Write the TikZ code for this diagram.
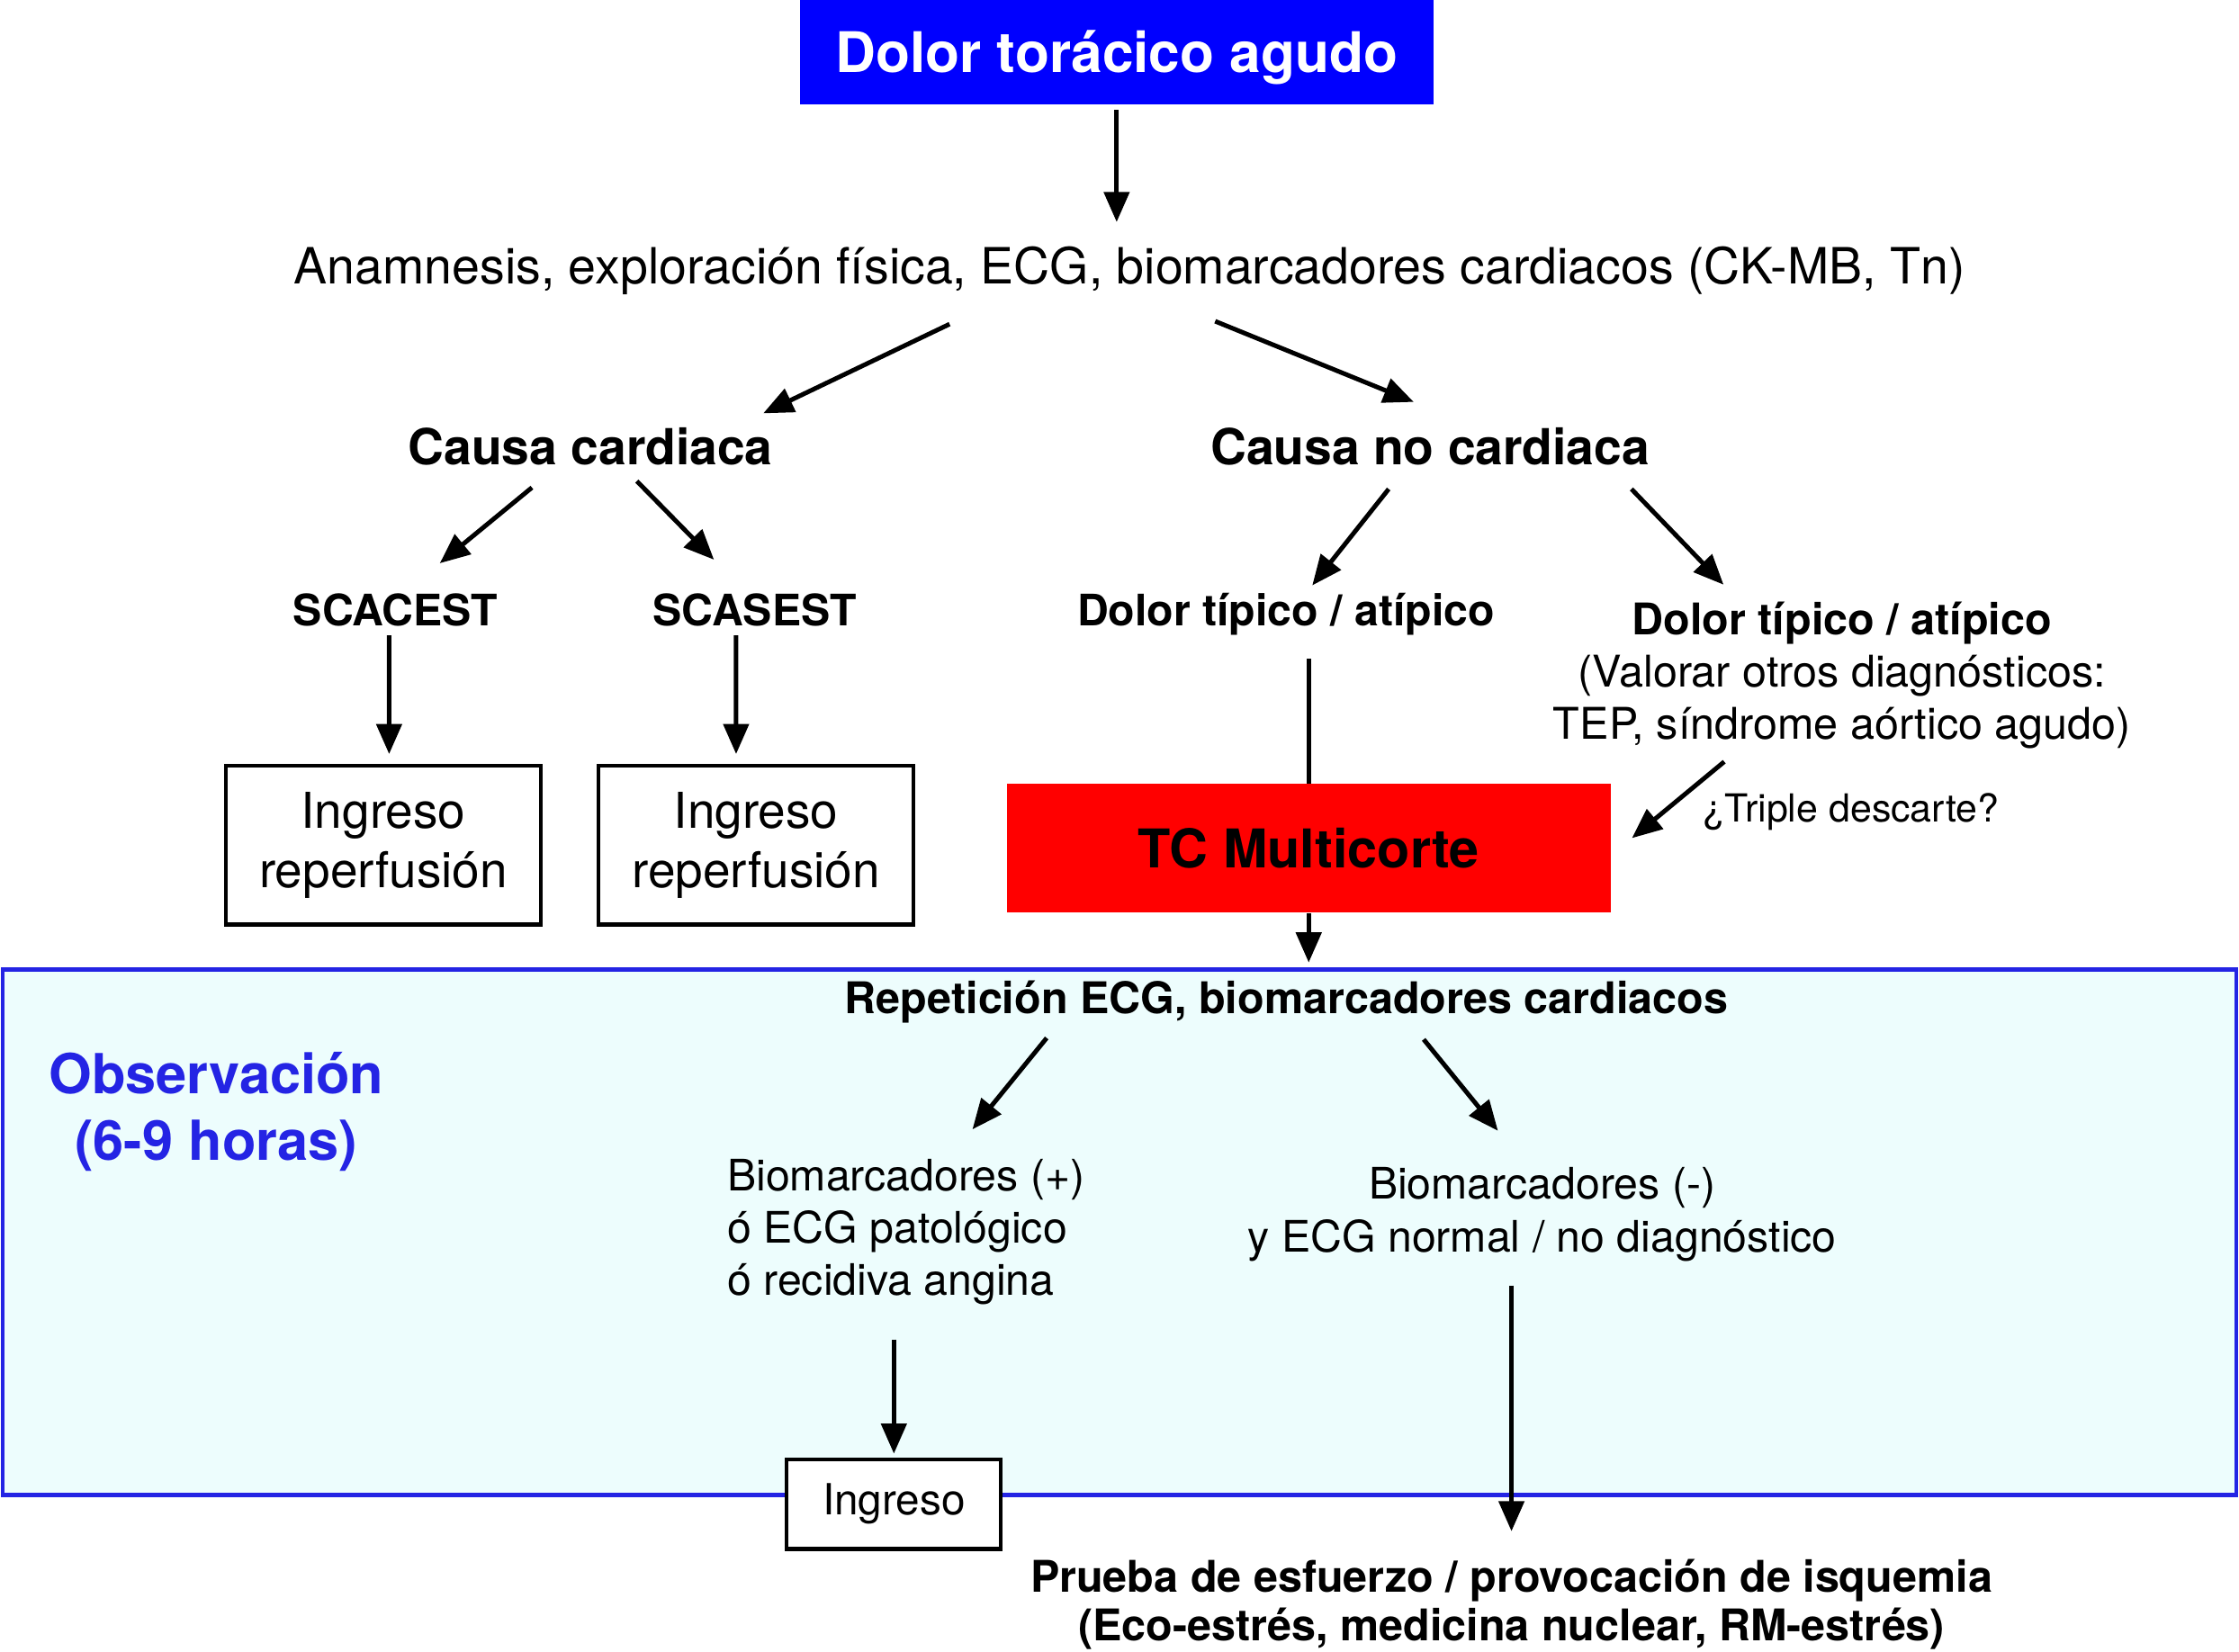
\documentclass[tikz,border=0pt]{standalone}
\usepackage{fontspec}
\setmainfont{TeX Gyre Heros}
\usepackage{xcolor}
\usepackage{tikz}
\usetikzlibrary{arrows.meta, positioning, calc}
\definecolor{headblue}{RGB}{0, 0, 255}
\definecolor{ctred}{RGB}{255, 0, 0}
\definecolor{obsblue}{RGB}{36, 36, 228}
\definecolor{obscyan}{RGB}{237, 253, 253}

\tikzset{
    arr/.style={line width=1.8pt, -{Triangle[length=12pt, width=10pt]}},
    plainline/.style={line width=1.8pt},
    txt/.style={inner sep=0pt, anchor=base, font=\fontsize{17.4pt}{20.9pt}\selectfont},
    hdr/.style={inner sep=0pt, anchor=base, font=\fontsize{19.8pt}{24pt}\selectfont\bfseries},
    sub/.style={inner sep=0pt, anchor=base, font=\fontsize{17.3pt}{21pt}\selectfont\bfseries},
    outbox/.style={draw, line width=1.55pt, fill=white, inner sep=0pt, align=center},
}

\begin{document}
\begin{tikzpicture}
    \useasboundingbox (0,0) rectangle (31.36,-23.14);

    % Observation area (background)
    \node[draw=obsblue, fill=obscyan, line width=1.55pt, minimum width=31.28cm, minimum height=7.36cm] (obsbox) at (15.68,-17.26) {};
    \node[inner sep=0pt, align=center, text=obsblue, font=\fontsize{22pt}{26.7pt}\selectfont\bfseries] (obslabel) at (3.03,-15.57) {Observación\\(6-9 horas)};

    % Top of the chart
    \node[fill=headblue, text=white, inner sep=0pt, text height=0.62cm, text depth=0.04cm, minimum width=8.88cm, minimum height=1.46cm, font=\fontsize{22.3pt}{26pt}\selectfont\bfseries] (title) at (15.64,-0.73) {Dolor torácico agudo};
    \node[txt, font=\fontsize{19.9pt}{24pt}\selectfont] (anam) at (15.82,-3.98) {Anamnesis, exploración física, ECG, biomarcadores cardiacos (CK-MB, Tn)};

    % Cardiac / non cardiac
    \node[hdr] (cardiac) at (8.27,-6.51) {Causa cardiaca};
    \node[hdr] (noncardiac) at (20.03,-6.51) {Causa no cardiaca};

    \node[sub] (scacest) at (5.54,-8.76) {SCACEST};
    \node[sub] (scasest) at (10.57,-8.76) {SCASEST};
    \node[sub] (typA) at (18.01,-8.76) {Dolor típico / atípico};
    \node[inner sep=0pt, anchor=north, align=center, font=\fontsize{17.4pt}{20.9pt}\selectfont] (typB) at (25.8,-8.42) {\textbf{Dolor típico / atípico}\\(Valorar otros diagnósticos:\\TEP, síndrome aórtico agudo)};

    \node[outbox, minimum width=4.41cm, minimum height=2.22cm, font=\fontsize{19.7pt}{23.8pt}\selectfont] (ingA) at (5.37,-11.84) {Ingreso\\reperfusión};
    \node[outbox, minimum width=4.41cm, minimum height=2.22cm, font=\fontsize{19.7pt}{23.8pt}\selectfont] (ingB) at (10.59,-11.84) {Ingreso\\reperfusión};

    % Multislice CT
    \node[fill=ctred, inner sep=0pt, minimum width=8.46cm, minimum height=1.8cm, font=\fontsize{21.3pt}{25pt}\selectfont\bfseries] (tc) at (18.33,-11.88) {TC Multicorte};
    \node[txt, font=\fontsize{15.4pt}{19pt}\selectfont] (triple) at (25.93,-11.52) {¿Triple descarte?};

    % Inside observation
    \node[sub, font=\fontsize{17.4pt}{21pt}\selectfont\bfseries] (repet) at (18.02,-14.2) {Repetición ECG, biomarcadores cardiacos};
    \node[inner sep=0pt, anchor=north west, align=left, font=\fontsize{17.3pt}{20.8pt}\selectfont] (bioPos) at (10.18,-16.23) {Biomarcadores (+)\\ó ECG patológico\\ó recidiva angina};
    \node[inner sep=0pt, anchor=north, align=center, font=\fontsize{17.3pt}{21pt}\selectfont] (bioNeg) at (21.6,-16.35) {Biomarcadores (-)\\y ECG normal / no diagnóstico};
    \node[outbox, minimum width=3cm, minimum height=1.26cm, font=\fontsize{17.1pt}{20pt}\selectfont] (ingreso) at (12.52,-21.07) {Ingreso};
    \node[inner sep=0pt, anchor=north, align=center, font=\fontsize{17.4pt}{19.6pt}\selectfont\bfseries] (prueba) at (21.17,-21.83) {Prueba de esfuerzo / provocación de isquemia\\(Eco-estrés, medicina nuclear, RM-estrés)};

    % Connectors
    \draw[arr, shorten <=0.07cm, shorten >=0.34cm] (title.south) -- (title.south |- anam.north);
    \draw[arr] ([shift={(-2.52,-0.56)}]anam.base) -- ([shift={(2.42,0.72)}]cardiac.base);
    \draw[arr] ([shift={(1.2,-0.52)}]anam.base) -- ([shift={(-0.23,0.88)}]noncardiac.base);
    \draw[arr] ([shift={(-0.82,-0.32)}]cardiac.base) -- ([shift={(0.62,0.87)}]scacest.base);
    \draw[arr] ([shift={(0.65,-0.23)}]cardiac.base) -- ([shift={(-0.57,0.92)}]scasest.base);
    \draw[arr] ([shift={(-0.58,-0.34)}]noncardiac.base) -- ([shift={(0.37,0.56)}]typA.base);
    \draw[arr] ([shift={(2.82,-0.34)}]noncardiac.base) -- ([shift={(-1.66,0.23)}]typB.north);
    \draw[arr] ([shift={(-0.09,-0.14)}]scacest.base) -- ([shift={(0.08,0.14)}]ingA.north);
    \draw[arr] ([shift={(-0.26,-0.14)}]scasest.base) -- ([shift={(-0.28,0.14)}]ingB.north);
    \draw[plainline, shorten >=0.33cm] (tc.north) -- (tc.north |- typA.south);
    \draw[arr, shorten >=0.07cm] (tc.south) -- (tc.south |- obsbox.north);
    \draw[arr] ([shift={(-1.78,0.85)}]triple.base) -- ([shift={(0.29,0.14)}]tc.east);
    \draw[arr] ([shift={(-3.36,-0.34)}]repet.base) -- ([shift={(3.44,0.41)}]bioPos.north west);
    \draw[arr] ([shift={(1.92,-0.36)}]repet.base) -- ([shift={(-0.62,0.51)}]bioNeg.north);
    \draw[arr, shorten <=0.48cm, shorten >=0.05cm] (ingreso.north |- bioPos.south) -- (ingreso.north);
    \draw[arr, shorten <=0.33cm, shorten >=0.38cm] (prueba.north |- bioNeg.south) -- (prueba.north);
\end{tikzpicture}
\end{document}
